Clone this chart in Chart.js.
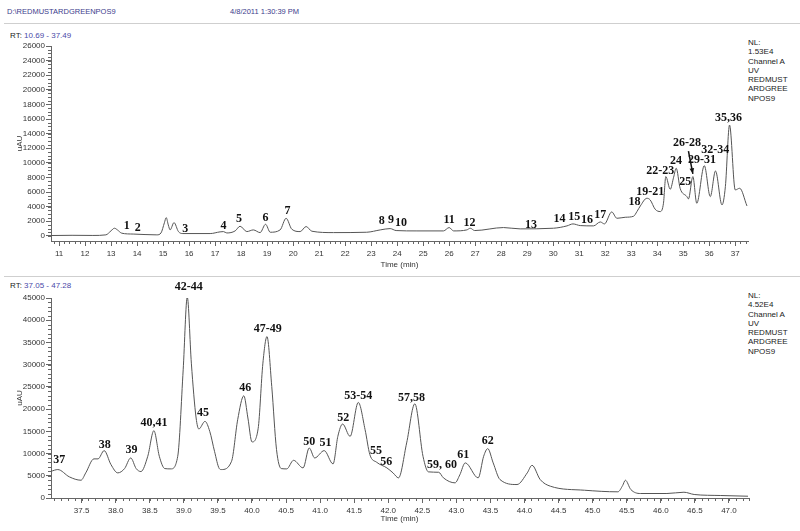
<!DOCTYPE html>
<html>
<head>
<meta charset="utf-8">
<script src="https://cdn.jsdelivr.net/npm/chart.js@4.4.1/dist/chart.umd.min.js"></script>
<style>
  body { margin: 0; width: 800px; height: 531px; position: relative; background: #fff; overflow: hidden;
         font-family: "Liberation Sans", Arial, sans-serif; }
  .t { position: absolute; font-size: 8px; line-height: 1; white-space: nowrap; color: #222; }
  .blue { color: #4a4aa8; }
  .nl { position: absolute; left: 748px; font-size: 8px; line-height: 9.3px; color: #222; }
  .rule { position: absolute; left: 4px; right: 0; height: 1px; background: #cfcfcf; }
  canvas { position: absolute; left: 0; }
</style>
</head>
<body>
<div class="t" style="left:7px;top:8px;color:#3c3c8c;font-size:7.5px">D:\REDMUSTARDGREENPOS9</div>
<div class="t" style="left:230px;top:8px;color:#3c3c8c;font-size:7.5px">4/8/2011 1:30:39 PM</div>
<div class="rule" style="top:23px"></div>
<div class="t" style="left:10px;top:32px">RT: <span class="blue">10.69 - 37.49</span></div>
<div class="nl" style="top:38px">NL:<br>1.53E4<br>Channel A<br>UV<br>REDMUST<br>ARDGREE<br>NPOS9</div>
<div class="rule" style="top:276px"></div>
<div class="t" style="left:10px;top:282px">RT: <span class="blue">37.05 - 47.28</span></div>
<div class="nl" style="top:291px">NL:<br>4.52E4<br>Channel A<br>UV<br>REDMUST<br>ARDGREE<br>NPOS9</div>

<canvas id="top" width="800" height="240" style="top:30px"></canvas>
<canvas id="bottom" width="800" height="251" style="top:280px"></canvas>

<script>
// ---- upper trace, RT 10.69 - 37.49 ----
const topTimes = [10.69, 11.5, 12.3, 12.8, 13.0, 13.13, 13.25, 13.41, 13.85, 14.76, 14.92, 15.05, 15.12, 15.2, 15.27,
  15.42, 15.59, 15.76, 16.81, 17.19, 17.32, 17.45, 17.77, 17.96, 18.22, 18.47, 18.73, 18.94, 19.12, 19.5,
  19.73, 19.95, 20.27, 20.5, 20.72, 21.55, 22.83, 23.35, 23.73, 23.96, 24.76, 25.78, 26.0, 26.17, 26.68,
  26.81, 26.98, 28.09, 28.73, 30.01, 30.53, 30.76, 31.04, 31.55, 31.81, 31.97, 32.25, 32.45, 32.77, 33.09,
  33.22, 33.35, 33.6, 33.73, 33.92, 34.12, 34.24, 34.33, 34.5, 34.63, 34.73, 34.88, 35.14, 35.2, 35.37,
  35.52, 35.81, 36.04, 36.24, 36.49, 36.62, 36.78, 37.0, 37.17, 37.45];
const topValues = [50, 80, 60, 140, 700, 1050, 800, 370, 250, 140, 400, 1800, 2500, 1500, 820,
  1820, 590, 320, 320, 550, 590, 400, 680, 1320, 590, 820, 450, 1590, 500, 820,
  2410, 910, 590, 1280, 640, 450, 500, 820, 1000, 730, 680, 680, 1140, 680, 820,
  1050, 730, 1140, 960, 1050, 1370, 1640, 1410, 1370, 1910, 1640, 3280, 2410, 2550, 2690,
  3330, 4100, 5150, 4920, 3650, 3330, 4470, 8120, 6380, 8030, 9260, 6520, 5380, 5060, 8120,
  4470, 9620, 5380, 8890, 4240, 6740, 15180, 6290, 6520, 4100];
const topXTicks = [11, 12, 13, 14, 15, 16, 17, 18, 19, 20, 21, 22, 23, 24, 25, 26, 27, 28, 29, 30, 31, 32, 33, 34, 35, 36, 37];
const topYTicks = [0, 2000, 4000, 6000, 8000, 10000, 12000, 14000, 16000, 18000, 20000, 22000, 24000, 26000];
const topPeakNames = ["1", "2", "3", "4", "5", "6", "7", "8", "9", "10", "11", "12", "13", "14", "15", "16", "17", "18",
  "19-21", "22-23", "24", "25", "26-28", "29-31", "32-34", "35,36"];
const topPeakTimes = [13.6, 14.03, 15.85, 17.32, 17.92, 18.94, 19.78, 23.41, 23.76, 24.15, 26.0, 26.78, 29.15, 30.24, 30.81,
  31.3, 31.81, 33.13, 33.73, 34.12, 34.72, 35.08, 35.14, 35.72, 36.23, 36.74];
const topPeakValues = [1300, 1030, 990, 1350, 2360, 2440, 3360, 1990, 2130, 1810, 2220, 1760, 1530, 2260, 2580,
  2220, 2910, 4640, 6010, 8850, 10220, 7380, 12730, 10360, 11730, 16210];
// arrow from the "26-28" label down to its peak: [time, value] start and end
const topArrow = [[35.2, 11600], [35.37, 8500]];

// ---- lower trace, RT 37.05 - 47.28 ----
const botTimes = [37.05, 37.15, 37.32, 37.49, 37.56, 37.68, 37.74, 37.83, 37.93, 38.03, 38.13, 38.22, 38.3, 38.37, 38.47,
  38.56, 38.64, 38.72, 38.81, 38.91, 38.99, 39.05, 39.11, 39.18, 39.22, 39.31, 39.38, 39.45, 39.52, 39.55,
  39.7, 39.79, 39.88, 39.94, 40.0, 40.09, 40.16, 40.22, 40.29, 40.36, 40.43, 40.51, 40.61, 40.75, 40.84,
  40.92, 41.06, 41.19, 41.26, 41.33, 41.44, 41.56, 41.66, 41.73, 41.83, 41.98, 42.07, 42.15, 42.27, 42.39,
  42.51, 42.59, 42.74, 42.81, 42.98, 43.05, 43.13, 43.32, 43.4, 43.46, 43.54, 43.64, 43.89, 44.04, 44.11,
  44.23, 44.38, 44.88, 45.37, 45.44, 45.48, 45.56, 45.7, 46.09, 46.34, 46.49, 46.88, 47.28];
const botValues = [6010, 6400, 4750, 4000, 5650, 8800, 8800, 10660, 7520, 5650, 6620, 9010, 6620, 5950, 9380,
  15150, 9380, 6620, 6550, 9380, 28840, 45200, 30340, 18000, 15530, 17240, 15000, 10500, 6620, 6400,
  8260, 17620, 23000, 18000, 12610, 15580, 30340, 36310, 25090, 10880, 6620, 6550, 8480, 6770, 11260,
  9010, 10660, 7670, 13870, 16640, 13870, 21500, 15370, 9760, 8040, 6770, 5650, 4530, 12390, 21200,
  9380, 5880, 5790, 4530, 3410, 5200, 7900, 4530, 9380, 11110, 7900, 4150, 3030, 5650, 7360,
  4150, 2650, 1750, 1390, 2800, 4000, 1910, 1010, 1010, 1300, 790, 560, 400];
const botXTicks = [37.5, 38.0, 38.5, 39.0, 39.5, 40.0, 40.5, 41.0, 41.5, 42.0, 42.5, 43.0, 43.5, 44.0, 44.5, 45.0, 45.5, 46.0, 46.5, 47.0];
const botYTicks = [0, 5000, 10000, 15000, 20000, 25000, 30000, 35000, 40000, 45000];
const botPeakNames = ["37", "38", "39", "40,41", "42-44", "45", "46", "47-49", "50", "51", "52", "53-54", "55", "56",
  "57,58", "59, 60", "61", "62"];
const botPeakTimes = [37.17, 37.84, 38.23, 38.56, 39.07, 39.28, 39.9, 40.23, 40.84, 41.08, 41.34, 41.56, 41.82, 41.97,
  42.34, 42.79, 43.1, 43.46];
const botPeakValues = [8480, 12010, 10880, 16880, 47530, 19120, 24730, 37970, 12610, 12390, 18130, 23000, 10660, 8120,
  22620, 7360, 9760, 12900];

const AXIS = "#666";
const TEXT = "#333";
const tickFont = { family: "'Liberation Sans', Arial, sans-serif", size: 8 };

// short unlabelled ticks between the labelled ones
const minorTicks = {
  id: "minorTicks",
  afterDraw(chart, args, o) {
    const { ctx } = chart;
    const xs = chart.scales.x, ys = chart.scales.y;
    ctx.save();
    ctx.strokeStyle = AXIS;
    ctx.lineWidth = 1;
    ctx.beginPath();
    const nx = Math.round((xs.max - o.xFrom) / o.xStep);
    for (let i = 0; i <= nx; i++) {
      const px = Math.round(xs.getPixelForValue(o.xFrom + i * o.xStep)) + 0.5;
      ctx.moveTo(px, xs.top);
      ctx.lineTo(px, xs.top + 3);
    }
    const ny = Math.round(o.yTo / o.yStep);
    for (let i = 0; i <= ny; i++) {
      const py = Math.round(ys.getPixelForValue(i * o.yStep)) + 0.5;
      ctx.moveTo(ys.right, py);
      ctx.lineTo(ys.right - 3, py);
    }
    ctx.stroke();
    ctx.restore();
  }
};

// numbered peak labels (and the one arrow)
const peakLabels = {
  id: "peakLabels",
  afterDatasetsDraw(chart, args, o) {
    const { ctx } = chart;
    const xs = chart.scales.x, ys = chart.scales.y;
    ctx.save();
    ctx.fillStyle = "#111";
    ctx.font = "bold 12px 'Liberation Serif', 'Times New Roman', serif";
    ctx.textAlign = "center";
    ctx.textBaseline = "middle";
    o.names.forEach((n, i) => {
      ctx.fillText(n, xs.getPixelForValue(o.times[i]), ys.getPixelForValue(o.values[i]));
    });
    if (o.arrow) {
      const x1 = xs.getPixelForValue(o.arrow[0][0]), y1 = ys.getPixelForValue(o.arrow[0][1]);
      const x2 = xs.getPixelForValue(o.arrow[1][0]), y2 = ys.getPixelForValue(o.arrow[1][1]);
      ctx.strokeStyle = "#111";
      ctx.lineWidth = 1.5;
      ctx.beginPath();
      ctx.moveTo(x1, y1);
      ctx.lineTo(x2, y2);
      ctx.stroke();
      const a = Math.atan2(y2 - y1, x2 - x1);
      ctx.beginPath();
      ctx.moveTo(x2, y2);
      ctx.lineTo(x2 - 6 * Math.cos(a - 0.4), y2 - 6 * Math.sin(a - 0.4));
      ctx.lineTo(x2 - 6 * Math.cos(a + 0.4), y2 - 6 * Math.sin(a + 0.4));
      ctx.closePath();
      ctx.fill();
    }
    ctx.restore();
  }
};

function makeChart(id, times, values, cfg) {
  return new Chart(document.getElementById(id), {
    type: "line",
    data: {
      datasets: [{
        data: times.map((t, i) => ({ x: t, y: values[i] })),
        borderColor: "#555",
        borderWidth: 1,
        pointRadius: 0,
        cubicInterpolationMode: "monotone",
        fill: false
      }]
    },
    options: {
      responsive: false,
      animation: false,
      events: [],
      layout: { padding: { left: 0, right: 52, top: cfg.padTop, bottom: 0 } },
      plugins: {
        legend: { display: false },
        tooltip: { enabled: false },
        minorTicks: cfg.minor,
        peakLabels: cfg.peaks
      },
      scales: {
        x: {
          type: "linear",
          min: cfg.xMin,
          max: cfg.xMax,
          afterBuildTicks: s => { s.ticks = cfg.xTicks.map(v => ({ value: v })); },
          afterFit: s => { s.height = cfg.xHeight; },
          grid: { drawOnChartArea: false, tickLength: 5, color: AXIS },
          border: { color: AXIS },
          ticks: { font: tickFont, color: TEXT, padding: 3, autoSkip: false, maxRotation: 0,
                   callback: cfg.xLabel },
          title: { display: true, text: "Time (min)", font: tickFont, color: TEXT,
                   padding: { top: 0, bottom: cfg.titleBottom } }
        },
        y: {
          min: cfg.yMin,
          max: cfg.yMax,
          afterBuildTicks: s => { s.ticks = cfg.yTicks.map(v => ({ value: v })); },
          afterFit: s => { s.width = 51; },
          grid: { drawOnChartArea: false, tickLength: 5, color: AXIS },
          border: { color: AXIS },
          ticks: { font: tickFont, color: TEXT, padding: 1, autoSkip: false, callback: v => String(v) },
          title: { display: true, text: "uAU", font: tickFont, color: TEXT, padding: { top: 15, bottom: 0 } }
        }
      }
    },
    plugins: [minorTicks, peakLabels]
  });
}

makeChart("top", topTimes, topValues, {
  padTop: 16, xHeight: 29, titleBottom: 0,
  xMin: 10.69, xMax: 37.49, yMin: -700, yMax: 26000,
  xTicks: topXTicks, yTicks: topYTicks,
  xLabel: v => String(v),
  minor: { xFrom: 10.8, xStep: 0.2, yTo: 26000, yStep: 500 },
  peaks: { names: topPeakNames, times: topPeakTimes, values: topPeakValues, arrow: topArrow }
});

makeChart("bottom", botTimes, botValues, {
  padTop: 18, xHeight: 33, titleBottom: 7,
  xMin: 37.05, xMax: 47.28, yMin: 0, yMax: 45000,
  xTicks: botXTicks, yTicks: botYTicks,
  xLabel: v => v.toFixed(1),
  minor: { xFrom: 37.1, xStep: 0.1, yTo: 45000, yStep: 1000 },
  peaks: { names: botPeakNames, times: botPeakTimes, values: botPeakValues, arrow: null }
});
</script>
</body>
</html>
